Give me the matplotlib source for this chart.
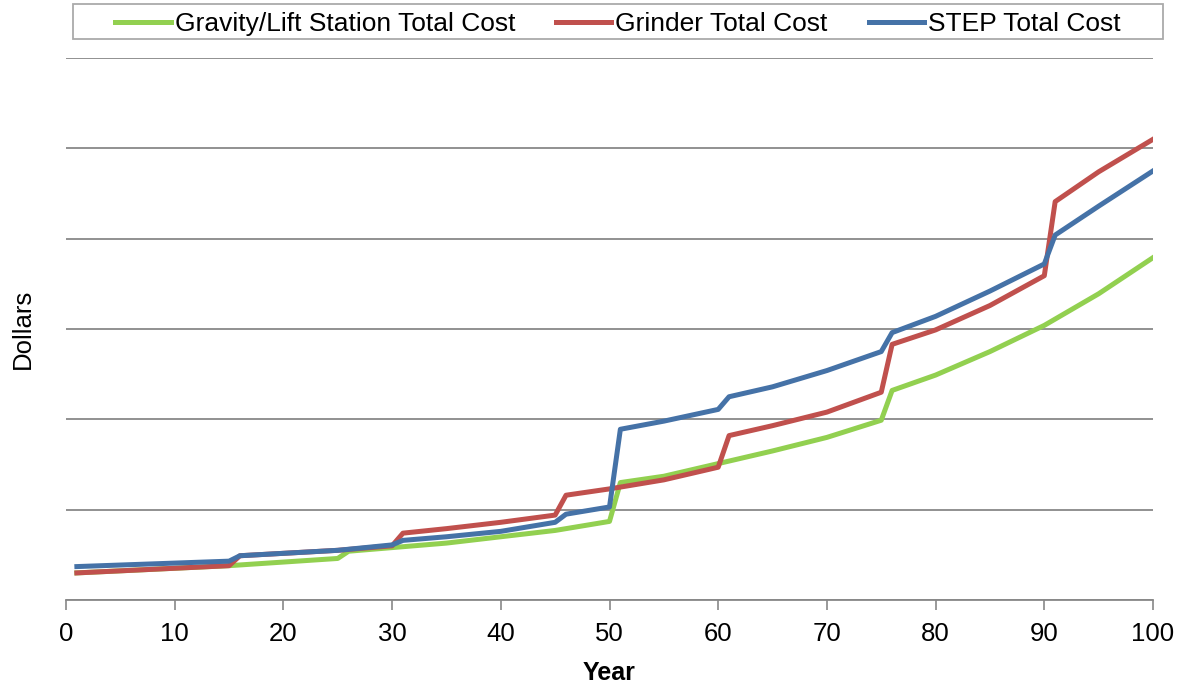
import matplotlib
matplotlib.use("Agg")
import matplotlib.pyplot as plt
from matplotlib.patches import Rectangle

plt.rcParams['font.family'] = ['Liberation Sans', 'DejaVu Sans']

# Values in grid units (each horizontal gridline = 1 unit)
gravity_years = [1, 15, 25, 26, 30, 35, 40, 45, 50, 51, 55, 60, 65, 70, 75, 76, 80, 85, 90, 95, 100]
gravity_cost = [0.30, 0.38, 0.46, 0.54, 0.58, 0.63, 0.70, 0.77, 0.87, 1.30, 1.37, 1.51, 1.65, 1.80, 1.99,
                2.32, 2.49, 2.75, 3.04, 3.39, 3.79]

grinder_years = [1, 15, 16, 25, 30, 31, 35, 40, 45, 46, 50, 55, 60, 61, 65, 70, 75, 76, 80, 85, 90, 91, 95, 100]
grinder_cost = [0.30, 0.38, 0.49, 0.55, 0.60, 0.74, 0.79, 0.86, 0.94, 1.16, 1.23, 1.33, 1.47, 1.82, 1.93,
                2.08, 2.30, 2.83, 2.99, 3.26, 3.59, 4.41, 4.74, 5.10]

step_years = [1, 15, 16, 25, 30, 31, 35, 40, 45, 46, 50, 51, 55, 60, 61, 65, 70, 75, 76, 80, 85, 90, 91, 95, 100]
step_cost = [0.37, 0.43, 0.49, 0.55, 0.61, 0.66, 0.70, 0.76, 0.86, 0.95, 1.03, 1.89, 1.98, 2.11, 2.25, 2.36,
             2.54, 2.75, 2.96, 3.14, 3.42, 3.72, 4.04, 4.36, 4.75]

series_labels = ["Gravity/Lift Station Total Cost", "Grinder Total Cost", "STEP Total Cost"]
x_ticks = list(range(0, 101, 10))

W, H = 1186, 686
fig = plt.figure(figsize=(W / 100, H / 100), dpi=100)
ax = fig.add_axes([66 / W, 1 - 600 / H, (1153 - 66) / W, (600 - 58) / H])

lw = 3.6
ax.plot(gravity_years, gravity_cost, color='#92D050', lw=lw, label=series_labels[0], solid_joinstyle='round', zorder=3)
ax.plot(grinder_years, grinder_cost, color='#C0504D', lw=lw, label=series_labels[1], solid_joinstyle='round', zorder=4)
ax.plot(step_years, step_cost, color='#4572A7', lw=lw, label=series_labels[2], solid_joinstyle='round', zorder=5)

ax.set_xlim(0, 100)
ax.set_ylim(0, 6)
ax.set_xticks(x_ticks)
ax.set_xticklabels([str(t) for t in x_ticks], fontsize=18.5)
ax.set_yticks(range(0, 7))
ax.set_yticklabels([])
ax.tick_params(axis='y', length=0)
ax.tick_params(axis='x', direction='out', length=7, width=1.2, color='#888888', pad=9)
ax.grid(axis='y', color='#888888', lw=1.3)
ax.set_axisbelow(True)
for s in ['left', 'right', 'top']:
    ax.spines[s].set_visible(False)
ax.spines['bottom'].set_color('#888888')
ax.spines['bottom'].set_linewidth(1.3)

ax.set_xlabel("Year", fontsize=18, fontweight='bold', labelpad=11)
ax.set_ylabel("Dollars", fontsize=18.5, labelpad=19)

leg = fig.legend(loc='center', bbox_to_anchor=((73 + 1163) / 2 / W, 1 - 24 / H), ncol=3, fontsize=19,
                 frameon=False, handlelength=2.1, handletextpad=0.15,
                 columnspacing=1.55, borderpad=0.1)
fig.add_artist(Rectangle((73 / W, 1 - 39 / H), (1163 - 73) / W, 35 / H, transform=fig.transFigure,
                         fill=False, edgecolor='#AAAAAA', lw=1.3))

fig.savefig("out.png", dpi=100)
